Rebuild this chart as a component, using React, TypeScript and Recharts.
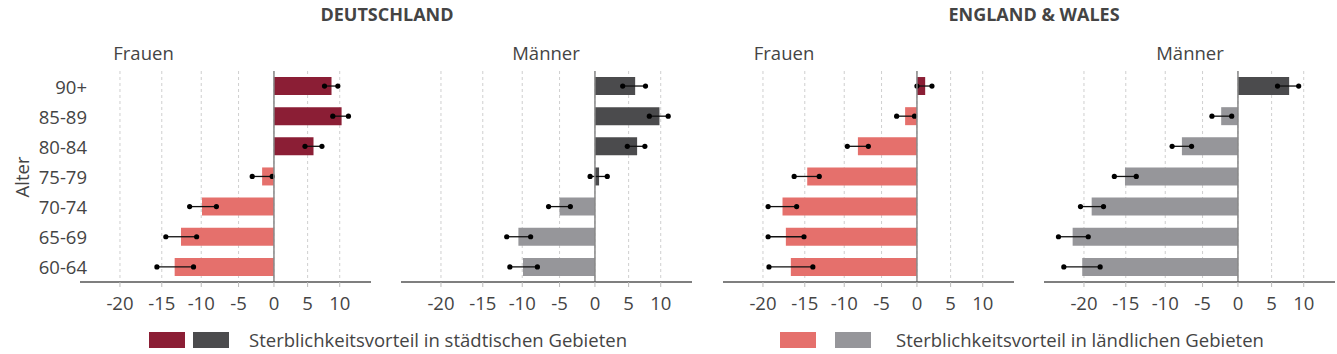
import React from "react";
import { BarChart, Bar, XAxis, YAxis, CartesianGrid, ReferenceLine, Cell } from "recharts";

// Sterblichkeitsvorteil in % (negative = Vorteil auf dem Land)
const ageGroups = ["90+", "85-89", "80-84", "75-79", "70-74", "65-69", "60-64"];

const deFrauenValue = [8.7, 10.3, 5.9, -1.7, -9.9, -12.6, -13.4];
const deFrauenLow = [7.6, 8.9, 4.6, -3.1, -11.5, -14.5, -15.6];
const deFrauenHigh = [9.7, 11.4, 7.2, -0.25, -8.0, -10.6, -11.0];

const deMaennerValue = [6.0, 9.8, 6.3, 0.6, -5.0, -10.5, -9.9];
const deMaennerLow = [4.1, 8.2, 4.8, -0.7, -6.5, -12.0, -11.6];
const deMaennerHigh = [7.6, 11.2, 7.5, 1.8, -3.5, -8.9, -8.0];

const ewFrauenValue = [1.2, -1.7, -8.2, -14.7, -17.7, -17.3, -16.7];
const ewFrauenLow = [0.0, -2.9, -9.6, -16.3, -19.4, -19.4, -19.3];
const ewFrauenHigh = [2.2, -0.35, -6.8, -13.2, -16.0, -15.1, -14.0];

const ewMaennerValue = [7.7, -2.4, -7.8, -15.1, -19.1, -21.3, -20.2];
const ewMaennerLow = [5.9, -3.7, -9.1, -16.4, -20.4, -22.9, -22.3];
const ewMaennerHigh = [9.2, -0.9, -6.5, -13.7, -17.7, -19.5, -18.1];

const xTickValues = [-20, -15, -10, -5, 0, 5, 10];

const URBAN_F = "#8b1e35";
const URBAN_M = "#4b4b4d";
const RURAL_F = "#e5706c";
const RURAL_M = "#96969a";
const TEXT = "#444";
const FONT = '"Open Sans", sans-serif';

// the axis is logarithmic in the mortality ratio (1 + v/100)
const toRatio = (v: number) => 1 + v / 100;
const xTicks = xTickValues.map(toRatio);
const xDomain = [0.755, 1.151];

type Row = { age: string; v: number; r: number; ci: [number, number] };

const makeRows = (vals: number[], lows: number[], highs: number[]): Row[] =>
  ageGroups.map((age, i) => ({
    age,
    v: vals[i],
    r: toRatio(vals[i]),
    ci: [toRatio(lows[i]), toRatio(highs[i])],
  }));

const ErrShape = (props: any) => {
  const { x, y, width, height } = props;
  const cy = y + height / 2;
  return (
    <g>
      <line x1={x} x2={x + width} y1={cy} y2={cy} stroke="#111" strokeWidth={1.3} />
      <circle cx={x} cy={cy} r={2.6} fill="#000" />
      <circle cx={x + width} cy={cy} r={2.6} fill="#000" />
    </g>
  );
};

const XTick = (props: any) => {
  const { x, y, payload } = props;
  return (
    <text x={x} y={y} textAnchor="middle" dominantBaseline="central" fontSize={18.5} fontFamily={FONT} fill={TEXT}>
      {Math.round((payload.value - 1) * 100)}
    </text>
  );
};

const YTick = (props: any) => {
  const { x, y, payload } = props;
  return (
    <text x={x + 7} y={y} textAnchor="end" dominantBaseline="central" fontSize={18.5} fontFamily={FONT} fill={TEXT}>
      {payload.value}
    </text>
  );
};

const PLOT_W = 291;
const Y_W = 80;

function Panel({
  plotLeft,
  rows,
  urban,
  rural,
  showY,
}: {
  plotLeft: number;
  rows: Row[];
  urban: string;
  rural: string;
  showY?: boolean;
}) {
  const yw = showY ? Y_W : 0;
  return (
    <div style={{ position: "absolute", left: plotLeft - yw, top: 0 }}>
      <BarChart
        width={yw + PLOT_W + 10}
        height={320}
        data={rows}
        layout="vertical"
        barCategoryGap="20%"
        margin={{ top: 71, right: 10, left: 0, bottom: 8 }}
      >
        <CartesianGrid horizontal={false} verticalValues={xTicks} strokeDasharray="3 3" stroke="#cfcfcf" />
        <XAxis
          type="number"
          scale="log"
          domain={xDomain}
          ticks={xTicks}
          allowDataOverflow
          height={30}
          tick={<XTick />}
          tickLine={{ stroke: "#bbb" }}
          tickSize={5}
          tickMargin={15}
          axisLine={{ stroke: "#555", strokeWidth: 1.5 }}
        />
        <YAxis
          type="category"
          dataKey="age"
          hide={!showY}
          width={yw}
          tick={<YTick />}
          tickLine={false}
          axisLine={false}
          tickSize={0}
          tickMargin={0}
        />
        <YAxis yAxisId="ci" type="category" dataKey="age" hide />
        <Bar dataKey={(d: Row) => [1, d.r]} isAnimationActive={false}>
          {rows.map((d) => (
            <Cell key={d.age} fill={d.v >= 0 ? urban : rural} />
          ))}
        </Bar>
        <ReferenceLine x={1} stroke="#888" strokeWidth={1.5} />
        <Bar yAxisId="ci" dataKey={(d: Row) => d.ci} shape={<ErrShape />} isAnimationActive={false} />
      </BarChart>
    </div>
  );
}

const abs = (style: React.CSSProperties): React.CSSProperties => ({
  position: "absolute",
  whiteSpace: "nowrap",
  ...style,
});

function Centered({ x, y, children, style }: { x: number; y: number; children: React.ReactNode; style?: React.CSSProperties }) {
  return (
    <div style={abs({ left: x, top: y, transform: "translate(-50%, -50%)", lineHeight: 1, ...style })}>{children}</div>
  );
}

const Swatch = ({ x, color }: { x: number; color: string }) => (
  <div style={abs({ left: x, top: 332, width: 36, height: 16, background: color })} />
);

export default function App() {
  return (
    <div
      style={{
        position: "absolute",
        left: 0,
        top: 0,
        width: 1337,
        height: 354,
        background: "#fff",
        fontFamily: FONT,
        color: TEXT,
        overflow: "hidden",
      }}
    >
      <Centered x={387} y={14} style={{ fontSize: 18, fontWeight: 700 }}>DEUTSCHLAND</Centered>
      <Centered x={1034} y={14} style={{ fontSize: 18, fontWeight: 700 }}>ENGLAND &amp; WALES</Centered>

      <Centered x={143.5} y={53} style={{ fontSize: 18.5 }}>Frauen</Centered>
      <Centered x={546} y={53} style={{ fontSize: 18.5 }}>Männer</Centered>
      <Centered x={784} y={53} style={{ fontSize: 18.5 }}>Frauen</Centered>
      <Centered x={1190} y={53} style={{ fontSize: 18.5 }}>Männer</Centered>

      <Panel plotLeft={80} rows={makeRows(deFrauenValue, deFrauenLow, deFrauenHigh)} urban={URBAN_F} rural={RURAL_F} showY />
      <Panel plotLeft={401} rows={makeRows(deMaennerValue, deMaennerLow, deMaennerHigh)} urban={URBAN_M} rural={RURAL_M} />
      <Panel plotLeft={722.5} rows={makeRows(ewFrauenValue, ewFrauenLow, ewFrauenHigh)} urban={URBAN_F} rural={RURAL_F} />
      <Panel plotLeft={1044} rows={makeRows(ewMaennerValue, ewMaennerLow, ewMaennerHigh)} urban={URBAN_M} rural={RURAL_M} />

      <Centered x={22} y={177} style={{ fontSize: 18.5, transform: "translate(-50%, -50%) rotate(-90deg)" }}>Alter</Centered>

      <Swatch x={149} color={URBAN_F} />
      <Swatch x={193} color={URBAN_M} />
      <div style={abs({ left: 249, top: 340, transform: "translateY(-50%)", fontSize: 18.5, lineHeight: 1 })}>
        Sterblichkeitsvorteil in städtischen Gebieten
      </div>
      <Swatch x={780} color={RURAL_F} />
      <Swatch x={835} color={RURAL_M} />
      <div style={abs({ left: 896, top: 340, transform: "translateY(-50%)", fontSize: 18.5, lineHeight: 1 })}>
        Sterblichkeitsvorteil in ländlichen Gebieten
      </div>
    </div>
  );
}
